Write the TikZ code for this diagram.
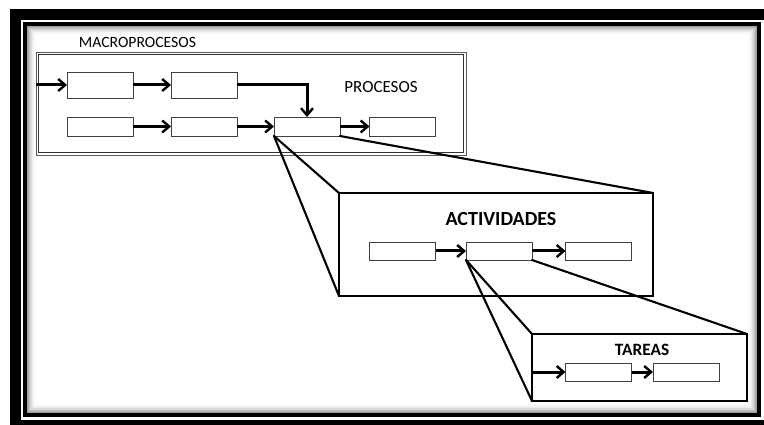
\documentclass[tikz,border=0pt]{standalone}
\usepackage{fontspec}
\newfontfamily\labelfont{Carlito}
\usetikzlibrary{arrows.meta}
\tikzset{
  pbox/.style={draw=black!75, line width=0.8pt, fill=white, minimum width=66pt, inner sep=0pt, outer sep=0pt},
  arr/.style={line width=3pt, -{Straight Barb[length=7pt,width=12pt,line width=2.4pt]}},
  zoomline/.style={line width=2.1pt, line cap=round},
  panel/.style={draw, line width=2pt, inner sep=0pt, outer sep=0pt},
  lbl/.style={font=\labelfont, inner sep=0pt}
}
\begin{document}
\begin{tikzpicture}[x=1pt, y=-1pt]
\useasboundingbox (0,0) rectangle (764,425);
\begin{scope}
\clip (0,0) rectangle (764,425);
% heavy outer frame
\draw[line width=11pt] (15.5,14.5) rectangle (775,425.5);
% inner frame with soft inner shadow
\foreach \i/\c in {1/60,2/48,3/38,4/30,5/23,6/17,7/12,8/8,9/5,10/2}
  \draw[line width=1.2pt, black!\c] (25+\i,24+\i) rectangle (759-\i,415-\i);
\draw[line width=4pt] (25,24) rectangle (759,415);
\end{scope}

% macro-process panel with a double border
\node[minimum width=428pt, minimum height=101pt, inner sep=0pt, outer sep=0pt] (macro) at (251,103.5) {};
\draw[black!65, line width=0.9pt] ([shift={(-1,-1)}]macro.north west) rectangle ([shift={(1,1)}]macro.south east);
\draw[black!80, line width=0.9pt] ([shift={(1.2,1.2)}]macro.north west) rectangle ([shift={(-1.2,-1.2)}]macro.south east);
\node[lbl, font=\labelfont\fontsize{15.7}{16}\selectfont] (tmacro) at (137.5,42) {MACROPROCESOS};
\node[lbl, font=\labelfont\fontsize{17}{18}\selectfont] (tproc) at (381,87) {PROCESOS};

\node[pbox, minimum height=26pt] (a) at (100,85) {};
\node[pbox, minimum height=26pt] (b) at (204,85) {};
\node[pbox, minimum height=19pt] (c) at (100,126.5) {};
\node[pbox, minimum height=19pt] (d) at (204,126.5) {};
\node[pbox, minimum height=19pt] (e) at (307,126.5) {};
\node[pbox, minimum height=19pt] (f) at (402.5,126.5) {};

\coordinate (in1) at ([xshift=-1pt]macro.west |- a);
\draw[arr] (in1) -- (a);
\draw[arr] (a) -- (b);
\draw[arr] (b.east) -| (e.north);
\draw[arr] (c) -- (d);
\draw[arr] (d) -- (e);
\draw[arr] (e) -- (f);

% activities panel
\node[panel, minimum width=314pt, minimum height=103pt] (act) at (496,244.5) {};
\node[lbl, font=\labelfont\bfseries\fontsize{20}{21}\selectfont] (tact) at (501,219) {ACTIVIDADES};
\node[pbox, minimum height=18pt] (g) at (402.5,251) {};
\node[pbox, minimum height=18pt] (h) at (499,251) {};
\node[pbox, minimum height=18pt] (i) at (598.5,251) {};
\draw[arr] (g) -- (h);
\draw[arr] (h) -- (i);

% tasks panel
\node[panel, minimum width=215pt, minimum height=67pt] (tar) at (639.5,367.5) {};
\node[lbl, font=\labelfont\bfseries\fontsize{17.3}{18}\selectfont] (ttar) at (642,350) {TAREAS};
\node[pbox, minimum height=18pt] (j) at (598.5,372) {};
\node[pbox, minimum height=18pt] (k) at (686,372) {};
\coordinate (in2) at (tar.west |- j);
\draw[arr] (in2) -- (j);
\draw[arr] (j) -- (k);

% zoom-out lines
\draw[zoomline] (e.south west) -- (act.north west);
\draw[zoomline] (e.south west) -- (act.south west);
\draw[zoomline] (e.south east) -- (act.north east);
\draw[zoomline] (h.south west) -- (tar.north west);
\draw[zoomline] (h.south west) -- (tar.south west);
\draw[zoomline] (h.south east) -- (tar.north east);
\end{tikzpicture}
\end{document}
